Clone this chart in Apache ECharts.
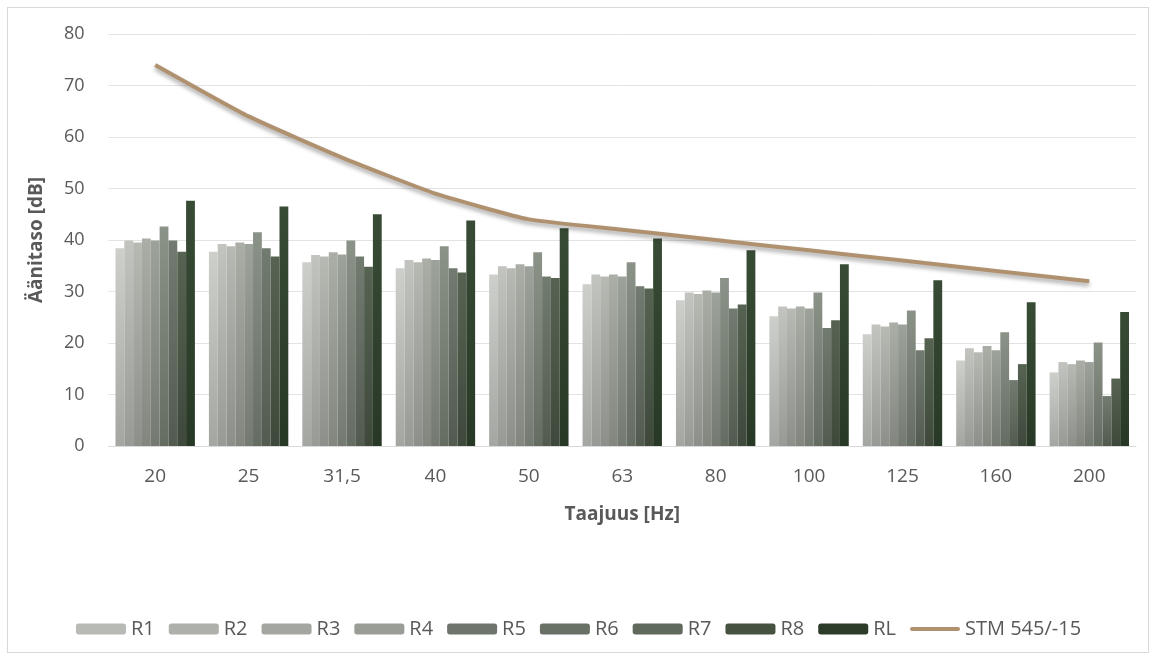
<!DOCTYPE html>
<html>
<head>
<meta charset="utf-8">
<script src="https://cdn.jsdelivr.net/npm/echarts@6/dist/echarts.min.js"></script>
<style>
html,body{margin:0;padding:0;background:#fff;}
#frame{position:absolute;left:7px;top:7px;width:1140px;height:644px;border:1px solid #d9d9d9;}
#chart{position:absolute;left:0;top:0;width:1155px;height:660px;}
</style>
</head>
<body>
<div id="frame"></div>
<div id="chart"></div>
<script>
const categories = ['20','25','31,5','40','50','63','80','100','125','160','200'];
const R1 = [38.4,37.7,35.7,34.5,33.3,31.4,28.3,25.2,21.7,16.6,14.3];
const R2 = [39.9,39.2,37.1,36.1,34.9,33.3,29.8,27.1,23.6,19.0,16.3];
const R3 = [39.5,38.8,36.8,35.7,34.5,32.9,29.5,26.7,23.2,18.2,15.9];
const R4 = [40.3,39.5,37.6,36.4,35.3,33.3,30.2,27.1,24.0,19.4,16.6];
const R5 = [39.9,39.2,37.2,36.1,34.9,32.9,29.8,26.7,23.6,18.6,16.3];
const R6 = [42.6,41.5,39.9,38.8,37.6,35.7,32.6,29.8,26.3,22.1,20.1];
const R7 = [39.9,38.4,36.8,34.5,32.9,31.0,26.7,22.9,18.6,12.8,9.7];
const R8 = [37.7,36.8,34.8,33.7,32.6,30.6,27.5,24.4,20.9,15.9,13.1];
const RL = [47.6,46.5,45.0,43.8,42.3,40.3,38.0,35.3,32.2,27.9,26.0];
const STM = [74,64,56,49,44,42,40,38,36,34,32];
const yTicks = [0,10,20,30,40,50,60,70,80];

const barNames = ['R1','R2','R3','R4','R5','R6','R7','R8','RL'];
const barData = [R1,R2,R3,R4,R5,R6,R7,R8,RL];
const barColors = [
  ['#cdcfcb','#a4a6a2'],
  ['#c2c4bf','#989b95'],
  ['#b7bab3','#8d908a'],
  ['#aaaea7','#82867f'],
  ['#9da29a','#747a71'],
  ['#8b9288','#656c62'],
  ['#727b6f','#535b50'],
  ['#566352','#3e493b'],
  ['#384c35','#283826']
];
const legendColors = ['#b8bab6','#aeb0ab','#a4a7a1','#999d96','#6f756c','#697166','#5f6a5c','#45523f','#2d3c29'];

const font = '"Open Sans", "Noto Sans", sans-serif';
const series = barNames.map((n,i)=>({
  name:n, type:'bar', data:barData[i],
  barGap:'0%', barCategoryGap:'15%',
  itemStyle:{color:{type:'linear',x:0,y:0,x2:0,y2:1,colorStops:[{offset:0,color:barColors[i][0]},{offset:1,color:barColors[i][1]}]}},
  emphasis:{disabled:true}
}));
series.push({
  name:'STM 545/-15', type:'line', data:STM, symbol:'none', smooth:0.15,
  lineStyle:{color:'#b0916f',width:4,shadowColor:'rgba(0,0,0,0.35)',shadowBlur:4,shadowOffsetY:3},
  itemStyle:{color:'#b0916f'}, z:5
});

const chart = echarts.init(document.getElementById('chart'));
chart.setOption({
  animation:false,
  grid:{left:108.5,right:19,top:34,bottom:214},
  legend:{
    left:71, top:614, itemWidth:50, itemHeight:11, itemGap:14,
    textStyle:{fontFamily:font,fontSize:20,color:'#595959'},
    data:barNames.map((n,i)=>({name:n,itemStyle:{color:legendColors[i]}})).concat([
      {name:'STM 545/-15', icon:'path://M2,0 L48,0 A2,2 0 0 1 48,4 L2,4 A2,2 0 0 1 2,0 Z', itemStyle:{color:'#b0916f'}}
    ])
  },
  xAxis:{
    type:'category', data:categories,
    axisLine:{lineStyle:{color:'#d9d9d9'}}, axisTick:{show:false},
    axisLabel:{fontFamily:font,fontSize:19,color:'#595959',margin:21},
    name:'Taajuus [Hz]', nameLocation:'middle', nameGap:59,
    nameTextStyle:{fontFamily:font,fontSize:19,fontWeight:'bold',color:'#595959'}
  },
  yAxis:{
    type:'value', min:0, max:80, interval:10,
    axisLabel:{fontFamily:font,fontSize:18,color:'#595959',margin:24},
    splitLine:{lineStyle:{color:'#e3e3e3'}},
    name:'Äänitaso [dB]', nameLocation:'middle', nameGap:62, nameRotate:90,
    nameTextStyle:{fontFamily:font,fontSize:19,fontWeight:'bold',color:'#595959'}
  },
  series:series
});
</script>
</body>
</html>
